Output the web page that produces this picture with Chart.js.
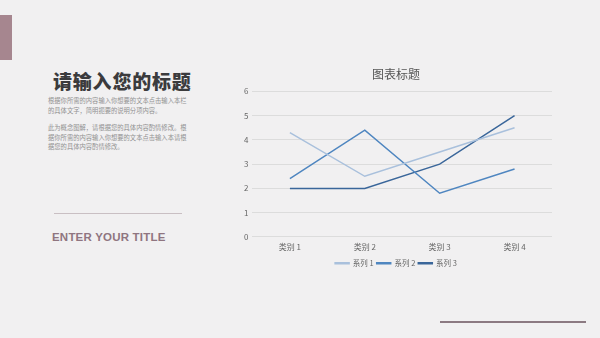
<!DOCTYPE html>
<html>
<head>
<meta charset="utf-8">
<script src="https://cdn.jsdelivr.net/npm/chart.js@4/dist/chart.umd.min.js"></script>
<style>
  html, body { margin: 0; padding: 0; }
  body { width: 600px; height: 338px; background: #f1f0f1; position: relative; overflow: hidden;
         font-family: "Noto Sans CJK SC", "Noto Sans", sans-serif; }
  #tag { position: absolute; left: 0; top: 15px; width: 12px; height: 45px; background: #a6868f; }
  #heading { position: absolute; left: 53px; top: 67px; font-size: 19px; font-weight: 900; color: #3b3b3d; letter-spacing: 0.8px; }
  .para { position: absolute; left: 48px; width: 140px; font-size: 6.3px; line-height: 9.5px; color: #929292; }
  #line1 { position: absolute; left: 54px; top: 213px; width: 128px; height: 1px; background: #c9bfc3; }
  #en { position: absolute; left: 52px; top: 231px; font-family: "Liberation Sans", sans-serif; font-size: 11.5px; font-weight: bold; color: #8f7580; letter-spacing: 0.2px; }
  #line2 { position: absolute; left: 440px; top: 321px; width: 146px; height: 2px; background: #8c7a82; }
  #box { position: absolute; left: 240px; top: 65px; width: 330px; height: 212px; }
</style>
</head>
<body>
<div id="tag"></div>
<div id="heading">请输入您的标题</div>
<div class="para" style="top:96px">根据你所需的内容输入你想要的文本点击输入本栏的具体文字，简明扼要的说明分项内容。</div>
<div class="para" style="top:123px">此为概念图解，请根据您的具体内容酌情修改。根据你所需的内容输入你想要的文本点击输入本请根据您的具体内容酌情修改。</div>
<div id="line1"></div>
<div id="en">ENTER YOUR TITLE</div>
<div id="line2"></div>
<div id="box"><canvas id="myChart"></canvas></div>
<script>
"use strict"

const categories = ['类别 1', '类别 2', '类别 3', '类别 4']
const series_names = ['系列 1', '系列 2', '系列 3']
const series1 = [4.3, 2.5, 3.5, 4.5]
const series2 = [2.4, 4.4, 1.8, 2.8]
const series3 = [2, 2, 3, 5]
const series_colors = ['#a9c0dc', '#4f86c0', '#3a669a']

const ctx = document.getElementById('myChart')

let line_chart = new Chart(ctx,
{
    type: 'line',
    data:
    {
        labels: categories,
        datasets: [
        {
            label: series_names[0],
            data: series1,
            borderColor: series_colors[0],
            backgroundColor: series_colors[0],
            borderWidth: 1.5,
            pointRadius: 0,
        },
        {
            label: series_names[1],
            data: series2,
            borderColor: series_colors[1],
            backgroundColor: series_colors[1],
            borderWidth: 1.5,
            pointRadius: 0,
        },
        {
            label: series_names[2],
            data: series3,
            borderColor: series_colors[2],
            backgroundColor: series_colors[2],
            borderWidth: 1.5,
            pointRadius: 0,
        },]
    },
    options:
    {
        responsive: true,
        maintainAspectRatio: false,
        animation: false,
        layout: { padding: { top: 0, bottom: 0, left: 0, right: 18 } },
        plugins:
        {
            title:
            {
                display: true,
                text: '图表标题',
                color: '#555',
                font: { size: 12, family: '"Noto Sans CJK SC"', weight: 'normal' },
                padding: { top: 2, bottom: 10 }
            },
            legend:
            {
                position: 'bottom',
                labels:
                {
                    color: '#666',
                    font: { size: 7.5, family: '"Noto Sans CJK SC"' },
                    boxWidth: 14,
                    boxHeight: 1,
                    padding: 3
                }
            },
            tooltip: { enabled: false }
        },
        scales:
        {
            x:
            {
                offset: true,
                grid: { display: false, drawTicks: false },
                border: { display: false },
                ticks: { color: '#666', padding: 5, font: { size: 8, family: '"Noto Sans CJK SC"' } }
            },
            y:
            {
                min: 0,
                max: 6,
                ticks: { stepSize: 1, color: '#666', padding: 4, font: { size: 8, family: '"Noto Sans CJK SC"' } },
                grid: { color: '#dcdcdc', drawTicks: false },
                border: { display: false }
            }
        }
    }
});
</script>
</body>
</html>
